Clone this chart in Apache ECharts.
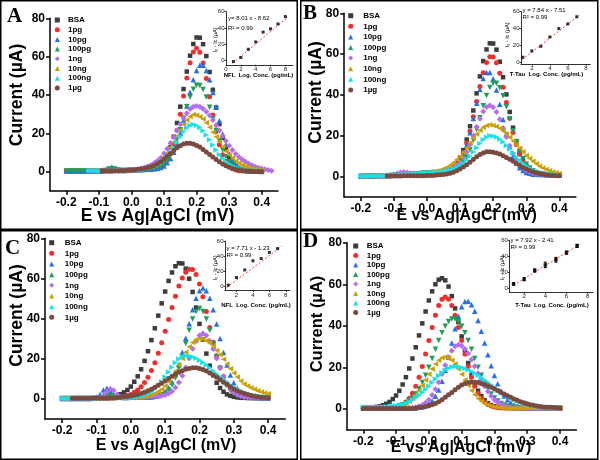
<!DOCTYPE html>
<html><head><meta charset="utf-8">
<script src="https://cdn.jsdelivr.net/npm/echarts@6/dist/echarts.min.js"></script>
<style>html,body{margin:0;padding:0;background:#fff}#c{width:600px;height:460px}</style>
</head><body><div id="c"></div>
<script>
// ---------- DATA ----------
const E = [-0.20,-0.19,-0.18,-0.17,-0.16,-0.15,-0.14,-0.13,-0.12,-0.11,-0.10,-0.09,-0.08,-0.07,-0.06,-0.05,-0.04,-0.03,-0.02,-0.01,0.00,0.01,0.02,0.03,0.04,0.05,0.06,0.07,0.08,0.09,0.10,0.11,0.12,0.13,0.14,0.15,0.16,0.17,0.18,0.19,0.20,0.21,0.22,0.23,0.24,0.25,0.26,0.27,0.28,0.29,0.30,0.31,0.32,0.33,0.34,0.35,0.36,0.37,0.38,0.39,0.40,0.41,0.42,0.43];
const seriesNames = ['BSA','1pg','10pg','100pg','1ng','10ng','100ng','1µg'];
const xTicks = [-0.2,-0.1,0,0.1,0.2,0.3,0.4];
const yTicks = [0,20,40,60,80];

// Panel A
const A_bsa = [0.3,0.3,0.3,0.3,0.3,0.3,0.3,0.3,0.3,0.3,0.3,0.3,0.3,0.3,0.3,0.5,0.5,0.5,0.5,0.5,0.8,0.9,1.0,1.0,1.1,1.2,1.6,2.0,2.6,3.7,5.6,8.5,12.7,18.2,25.4,33.9,43.1,52.2,60.5,66.6,70.0,69.9,66.5,60.3,52.0,42.7,33.4,24.8,17.6,12.0,7.8,4.8,2.8,1.6,0.9,0.5,0.3,0.2,0.2,0.1,0.1];
const A_1pg = [0.3,0.3,0.3,0.3,0.3,0.3,0.3,0.3,0.3,0.3,0.3,0.3,0.3,0.3,0.3,0.5,0.5,0.5,0.5,0.5,0.8,0.9,1.0,1.0,1.1,1.2,1.2,1.5,1.8,2.5,3.8,6.0,9.5,14.6,21.6,30.0,39.4,48.8,56.8,62.4,64.4,62.3,56.7,48.6,39.1,29.5,21.0,14.0,8.8,5.3,3.0,1.7,0.9,0.5,0.3,0.2,0.2,0.1,0.1,0.1,0.1];
const A_10pg = [0.3,0.3,0.3,0.3,0.3,0.3,0.3,0.3,0.3,0.3,0.3,0.3,0.8,1.8,2.4,1.8,1.0,0.6,0.6,0.7,0.8,0.9,1.0,1.0,1.1,1.2,1.2,1.5,1.7,2.2,3.0,4.6,6.9,10.1,14.6,20.2,26.9,34.2,41.4,48.0,52.8,55.5,55.5,52.8,47.9,41.3,33.9,26.5,19.7,14.0,9.5,6.2,3.9,2.3,1.4,0.8,0.5,0.3,0.2,0.2,0.1];
const A_100pg = [0.3,0.3,0.3,0.3,0.3,0.3,0.3,0.3,0.3,0.3,0.3,0.3,0.6,1.2,1.5,1.2,0.8,0.6,0.6,0.7,0.8,0.9,1.0,1.0,1.1,1.2,1.5,1.7,2.0,2.7,3.9,5.8,8.4,11.9,16.5,21.9,27.8,33.8,39.0,43.0,45.1,45.0,42.9,38.9,33.6,27.6,21.5,16.0,11.4,7.8,5.1,3.2,1.9,1.1,0.7,0.5,0.3,0.2,0.2,0.1,0.1];
const A_1ng = [null,null,null,null,null,null,null,0.4,0.4,0.4,0.4,0.4,0.4,0.4,0.4,0.5,0.5,0.6,0.7,0.7,0.9,1.0,1.1,1.6,2.1,2.7,3.4,4.5,5.7,7.3,9.5,12.0,14.9,18.0,21.4,24.7,27.8,30.5,32.7,33.9,34.3,33.8,32.8,31.3,29.3,26.9,24.2,21.4,18.6,16.0,13.5,11.3,9.3,7.7,6.3,5.1,4.1,3.3,2.6,2.0,1.6,1.2,0.8,0.5];
const A_10ng = [null,null,null,null,null,null,null,0.4,0.4,0.4,0.4,0.4,0.4,0.4,0.4,0.5,0.6,0.6,0.7,0.8,0.9,1.0,1.2,1.4,1.7,2.1,2.6,3.4,4.4,5.8,7.6,9.8,12.6,15.5,18.6,21.7,24.6,27.0,28.8,29.8,29.4,28.7,27.4,25.5,23.2,20.6,18.2,15.6,13.0,10.7,8.8,7.1,5.6,4.4,3.4,2.7,2.1,1.6,1.2,0.9,0.7];
const A_100ng = [null,null,null,null,null,null,null,0.4,0.4,0.4,0.4,0.4,0.4,0.4,0.4,0.5,0.6,0.6,0.7,0.8,0.9,1.0,1.0,1.1,1.2,1.7,2.0,2.5,3.2,4.2,5.7,7.6,9.9,12.5,15.3,18.2,20.8,22.8,24.1,24.6,24.2,23.0,21.3,19.1,16.6,13.9,11.3,9.0,7.0,5.3,4.0,3.0,2.2,1.6,1.1,0.8,0.6,0.5,0.4,0.3,0.3];
const A_1ug = [null,null,null,null,null,null,null,null,null,null,null,0.4,0.4,0.4,0.4,0.5,0.5,0.6,0.6,0.7,0.9,1.0,1.3,1.5,1.7,2.1,2.6,3.2,4.1,5.2,6.5,8.0,9.5,11.0,12.4,13.5,14.4,14.8,14.8,14.4,13.7,12.8,11.6,10.3,9.0,7.6,6.3,5.1,4.0,3.1,2.3,1.7,1.2,0.9,0.6,0.4,0.3,0.2,0.1,0.1,0.1];

// Panel B
const B_bsa = [0.2,0.2,0.3,0.3,0.3,0.4,0.4,0.5,0.5,0.6,0.7,0.8,0.9,1.0,1.1,1.2,1.3,1.4,1.5,1.7,1.8,1.9,2.0,2.1,2.2,2.7,3.0,3.7,4.8,6.6,9.3,13.0,18.2,24.7,32.4,40.8,49.1,56.6,62.3,65.3,65.2,62.2,56.3,48.7,40.3,31.7,24.0,17.4,12.1,8.3,5.5,3.7,2.5,1.8,1.5,1.1,1.0,1.0,0.9,0.9,0.8];
const B_1pg = [0.2,0.2,0.3,0.3,0.3,0.4,0.4,0.5,0.5,0.6,0.7,0.8,0.9,1.0,1.1,1.2,1.3,1.4,1.5,1.7,1.8,1.9,2.0,2.1,2.2,2.6,2.9,3.6,4.6,6.2,8.6,11.9,16.5,22.3,29.3,36.8,44.2,50.9,55.9,58.7,58.6,55.8,50.6,43.8,36.3,28.6,21.6,15.7,11.0,7.6,5.1,3.5,2.4,1.8,1.4,1.1,1.0,1.0,0.9,0.9,0.8];
const B_10pg = [0.2,0.2,0.3,0.3,0.3,0.4,0.4,0.5,0.5,0.6,0.7,0.8,0.9,1.0,1.1,1.2,1.3,1.4,1.5,1.7,1.8,1.9,2.0,2.1,2.2,2.3,2.7,3.2,4.0,5.4,7.6,10.8,15.5,21.5,28.5,35.9,42.7,48.1,51.0,51.0,47.9,42.5,35.5,28.0,20.9,14.8,10.0,6.7,4.4,3.0,2.1,1.7,1.2,1.2,1.1,1.1,1.0,1.0,0.9,0.9,0.8];
const B_100pg = [0.2,0.2,0.3,0.3,0.3,0.4,0.4,0.5,0.5,0.6,0.7,0.8,0.9,1.0,1.1,1.2,1.3,1.4,1.5,1.7,1.8,1.9,2.0,2.1,2.2,2.3,2.6,2.9,3.3,4.1,5.3,7.1,9.7,13.2,17.8,23.1,28.8,34.7,39.8,43.7,45.7,45.7,43.5,39.6,34.3,28.4,22.5,17.1,12.4,8.8,6.1,4.2,2.9,2.1,1.6,1.4,1.0,1.0,0.9,0.9,0.8];
const B_1ng = [0.2,0.2,0.3,0.3,0.3,0.4,0.4,0.5,0.5,0.6,1.0,1.5,2.0,2.3,2.1,1.7,1.5,1.4,1.5,1.7,1.8,1.9,2.0,2.1,2.2,2.6,2.8,3.4,4.1,5.2,6.9,9.1,12.1,15.8,20.0,24.3,28.4,31.9,34.1,34.9,34.0,31.7,28.1,23.8,19.4,15.1,11.3,8.3,5.9,4.2,3.0,2.3,1.7,1.4,1.1,1.1,1.0,1.0,0.9,0.9,0.8];
const B_10ng = [0.2,0.2,0.3,0.3,0.3,0.4,0.4,0.5,0.5,0.6,0.7,0.8,0.9,1.0,1.1,1.2,1.3,1.4,1.5,1.7,1.8,2.2,2.4,2.8,3.2,3.9,4.6,5.6,6.8,8.3,10.0,12.0,14.2,16.5,18.8,20.9,22.7,24.2,25.1,25.4,25.1,24.6,23.6,22.4,20.9,19.3,17.5,15.8,13.9,12.2,10.4,8.9,7.5,6.3,5.1,4.3,3.5,2.9,2.3,1.9,1.6];
const B_100ng = [0.2,0.2,0.3,0.3,0.3,0.4,0.4,0.5,0.5,0.6,0.7,0.8,0.9,1.0,1.1,1.2,1.3,1.4,1.5,1.7,1.8,1.9,2.0,2.1,2.2,2.6,2.8,3.2,3.7,4.4,5.4,6.6,8.2,10.0,12.1,14.2,16.3,18.1,19.3,20.0,19.9,19.4,18.4,17.1,15.3,13.6,11.6,9.8,8.1,6.6,5.2,4.2,3.3,2.7,2.1,1.8,1.4,1.3,0.9,0.9,0.8];
const B_1ug = [null,null,null,null,null,null,null,null,0.3,0.3,0.3,0.3,0.3,0.4,0.4,0.4,0.4,0.5,0.5,0.5,0.6,0.6,0.6,0.8,0.9,1.1,1.3,1.7,2.2,2.9,3.7,4.7,5.9,7.1,8.4,9.7,10.8,11.6,12.2,12.2,12.0,11.6,11.1,10.3,9.4,8.5,7.5,6.4,5.5,4.5,3.7,3.0,2.4,1.9,1.5,1.2,0.9,0.7,0.6,0.5,0.4];

// Panel C
const C_bsa = [0.3,0.3,0.3,0.3,0.3,0.3,0.3,0.3,0.3,0.3,0.3,0.4,0.4,0.4,0.9,1.1,1.7,2.4,3.3,4.5,6.2,8.6,11.3,14.8,19.0,23.8,29.3,35.2,41.5,47.6,53.5,58.8,63.0,66.1,67.6,67.5,64.9,59.9,53.3,45.5,37.4,29.6,22.6,16.6,11.8,8.1,5.5,3.6,2.3,1.6,1.1,0.8,0.6,0.6,0.5,0.5,0.5,0.5,0.5,0.5,0.5];
const C_1pg = [0.3,0.3,0.3,0.3,0.3,0.3,0.3,0.3,0.3,0.3,0.3,0.4,0.4,0.4,0.4,0.4,0.6,1.0,1.3,1.7,2.3,3.4,4.5,6.1,8.2,10.8,14.2,18.1,22.8,28.0,33.7,39.6,45.5,51.2,56.2,60.3,63.1,64.6,64.5,62.0,57.2,50.9,43.5,35.6,28.2,21.5,15.7,11.1,7.6,5.1,3.4,2.3,1.6,1.1,0.8,0.7,0.6,0.6,0.5,0.5,0.5];
const C_10pg = [0.3,0.3,0.3,0.3,0.3,0.3,0.3,0.3,0.3,0.6,1.0,2.2,4.5,5.4,4.2,2.2,1.1,0.9,0.8,0.8,0.9,0.9,1.0,1.0,1.0,1.0,1.0,1.4,1.8,2.6,3.7,5.6,8.4,12.2,17.2,23.3,30.2,37.5,44.4,50.1,53.9,55.2,53.9,50.1,44.4,37.4,30.1,23.1,16.9,11.9,8.1,5.3,3.4,2.3,1.5,1.1,0.8,0.7,0.6,0.6,0.5];
const C_100pg = [0.3,0.3,0.3,0.3,0.3,0.3,0.3,0.3,0.3,0.3,0.3,0.3,0.8,1.5,1.8,1.2,0.7,0.6,0.7,0.7,0.8,0.8,0.8,0.9,0.9,0.9,1.0,1.0,1.5,2.0,2.9,4.5,7.0,10.4,15.3,21.0,27.6,34.2,39.8,43.6,45.0,43.6,39.8,34.2,27.6,21.0,15.2,10.3,6.7,4.2,2.6,1.6,1.1,0.8,0.7,0.6,0.6,0.5,0.5,0.5,0.5];
const C_1ng = [0.3,0.3,0.3,0.3,0.3,0.3,0.3,0.3,0.3,0.3,0.4,0.8,1.8,3.6,5.0,4.2,2.2,1.0,0.8,0.8,0.9,0.9,1.0,1.0,1.1,1.1,1.2,1.2,1.3,1.6,2.0,2.8,3.9,5.7,8.2,11.6,15.7,20.3,25.0,28.9,31.6,32.6,31.6,28.9,24.9,20.2,15.5,11.3,7.8,5.2,3.4,2.3,1.5,1.1,0.9,0.8,0.7,0.6,0.6,0.5,0.5];
const C_10ng = [0.3,0.3,0.3,0.3,0.3,0.3,0.3,0.3,0.3,0.3,0.3,0.4,0.4,0.5,0.5,0.5,0.6,0.6,0.7,0.7,0.8,0.8,0.9,0.9,1.3,1.6,2.1,2.8,3.7,4.9,6.5,8.6,11.1,13.9,17.0,20.2,23.3,26.0,28.1,29.5,30.0,29.7,29.0,27.8,26.1,24.2,22.1,19.8,17.4,15.1,12.9,10.9,9.0,7.5,6.5,5.6,4.8,4.1,3.5,3.0,2.6];
const C_100ng = [0.3,0.3,0.3,0.3,0.3,0.3,0.3,0.3,0.3,0.3,0.3,0.4,0.4,0.5,0.5,0.5,0.6,0.6,0.7,0.7,0.8,0.8,1.2,1.5,2.0,2.6,3.6,4.9,6.6,8.6,10.9,13.4,15.8,18.1,19.9,21.1,21.5,21.4,20.9,20.3,19.3,18.2,16.9,15.5,14.0,12.5,11.1,9.7,8.3,7.0,5.9,5.0,4.1,3.4,2.8,2.3,1.9,1.6,1.3,1.1,1.0];
const C_1ug = [null,null,null,0.4,0.4,0.4,0.4,0.4,0.4,0.5,0.5,0.5,0.5,0.5,0.6,0.6,0.7,0.9,1.1,1.3,1.5,1.9,2.3,2.8,3.4,4.1,4.9,5.8,6.8,7.9,9.0,10.2,11.3,12.4,13.3,14.1,14.8,15.2,15.5,15.5,15.2,14.7,14.0,13.0,12.0,10.8,9.6,8.4,7.2,6.1,5.0,4.1,3.4,2.7,2.2,1.7,1.4,1.1,0.9,0.7,0.6];

// Panel D
const D_bsa = [0.4,0.4,0.4,0.4,1.0,1.3,1.8,2.5,3.4,4.8,6.5,8.8,11.8,15.3,19.5,24.3,29.7,35.4,41.2,46.9,52.2,56.6,60.0,62.2,62.9,61.9,58.9,54.3,48.4,41.8,34.9,28.2,22.1,16.8,12.3,8.8,6.2,4.2,2.8,1.9,1.3,0.9,0.7,0.6,0.5,0.5,0.5,0.4,0.4,0.4,0.4,0.4,0.4,0.4,0.4,0.4,0.4,0.4,0.4,0.4,0.4];
const D_1pg = [0.4,0.4,0.4,0.4,0.4,0.4,0.4,0.4,0.4,0.7,1.0,1.5,2.2,3.4,5.2,7.6,11.0,15.3,20.5,26.5,32.9,39.2,45.1,49.8,52.8,53.9,52.8,49.8,45.1,39.2,32.9,26.5,20.5,15.3,11.0,7.6,5.2,3.4,2.2,1.5,1.0,0.7,0.5,0.5,0.5,0.5,0.4,0.4,0.4,0.4,0.4,0.4,0.4,0.4,0.4,0.4,0.4,0.4,0.4,0.4,0.4];
const D_10pg = [0.4,0.4,0.4,0.4,0.4,0.4,0.4,0.4,0.4,0.4,0.4,0.4,0.4,0.5,0.5,0.5,0.5,0.8,1.1,1.6,2.5,3.9,6.1,9.2,13.3,18.6,24.9,31.8,38.6,44.6,49.2,51.7,51.8,50.1,47.0,42.6,37.4,31.8,26.1,20.8,16.1,12.1,8.8,6.3,4.4,3.0,2.1,1.5,1.1,0.8,0.6,0.6,0.5,0.5,0.5,0.5,0.4,0.4,0.4,0.4,0.4];
const D_100pg = [0.4,0.4,0.4,0.4,0.4,0.4,0.4,0.4,0.4,0.8,1.0,1.4,1.9,2.7,3.8,5.3,7.2,9.7,12.7,16.2,20.1,24.3,28.7,32.9,36.7,39.8,42.1,43.3,43.3,42.1,39.8,36.7,32.9,28.7,24.3,20.1,16.2,12.7,9.7,7.2,5.3,3.8,2.7,1.9,1.4,1.0,0.8,0.6,0.5,0.5,0.4,0.4,0.4,0.4,0.4,0.4,0.4,0.4,0.4,0.4,0.4];
const D_1ng = [0.4,0.4,0.4,0.4,0.4,0.4,0.4,0.4,0.4,0.4,0.4,0.4,0.4,0.4,0.4,0.6,0.9,1.3,1.9,3.0,4.5,6.7,9.5,12.9,16.8,21.0,24.8,28.0,30.2,30.9,30.4,28.9,26.7,23.8,20.6,17.2,14.0,11.0,8.4,6.2,4.5,3.2,2.3,1.6,1.1,0.9,0.6,0.5,0.5,0.4,0.4,0.4,0.4,0.4,0.4,0.4,0.4,0.4,0.4,0.4,0.4];
const D_10ng = [0.4,0.4,0.4,0.4,0.4,0.4,0.4,0.4,0.4,0.8,1.0,1.4,1.9,2.7,3.7,5.1,6.8,8.9,11.3,14.0,16.7,19.3,21.6,23.4,24.6,25.0,24.6,23.4,21.6,19.3,16.7,14.0,11.3,8.9,6.8,5.1,3.7,2.7,1.9,1.4,1.0,0.8,0.6,0.5,0.4,0.4,0.4,0.4,0.4,0.4,0.4,0.4,0.4,0.4,0.4,0.4,0.4,0.4,0.4,0.4,0.4];
const D_100ng = [0.9,0.9,0.9,0.9,0.9,0.9,1.0,1.1,1.2,1.4,1.6,1.9,2.3,2.9,3.5,4.4,5.4,6.6,7.9,9.4,11.0,12.7,14.4,16.0,17.5,18.7,19.6,20.2,20.4,20.3,20.0,19.5,18.9,18.1,17.2,16.2,15.1,13.9,12.7,11.5,10.3,9.2,8.1,7.1,6.2,5.4,4.6,3.9,3.3,2.8,2.3,1.9,1.6,1.3,1.1,1.0,0.8,0.7,0.6,0.6,0.5];
const D_1ug = [0.3,0.3,0.3,0.3,0.3,0.3,0.3,0.3,0.3,0.3,0.3,0.3,0.3,0.3,0.3,0.3,0.5,0.7,0.9,1.2,1.6,2.1,2.7,3.5,4.5,5.6,6.8,8.0,9.3,10.5,11.5,12.3,12.8,13.0,12.9,12.7,12.3,11.8,11.2,10.5,9.7,8.9,8.0,7.2,6.4,5.6,4.8,4.2,3.5,3.0,2.5,2.1,1.8,1.5,1.2,1.0,0.9,0.8,0.7,0.6,0.5];

// Insets (calibration plots)
const insA_x = [1,2,3,4,5,6,7,8];
const insA_y = [-1,4,14,23,35,39,45,54];
const insA_fit = [[0.9,-3],[8.3,53]];
const insB_x = [1,2,3,4,5,6,7];
const insB_y = [6,13.5,19,30,40,45.5,54];
const insB_fit = [[0.9,3],[7.3,56]];
const insC_x = [1,2,3,4,5,6,7];
const insC_y = [2,12,22,34,37,45,50];
const insC_fit = [[0.8,-1],[7.5,53]];
const insD_x = [1,2,3,4,5,6,7];
const insD_y = [5.5,11.5,22.5,29.5,36,45,53.5];
const insD_err = [1.5,2,2,3.5,3,2,2];
const insD_fit = [[1,4],[7.2,55]];
const insXTicksA = [0,2,4,6,8];
const insXTicks = [2,4,6,8];
const insYTicks = [0,20,40,60];

// ---------- LAYOUT / STYLE ----------
const FF = '"Liberation Sans", Arial, sans-serif';
const styles = [
  {symbol:'rect', color:'#3c3c3c', size:4.5, rot:0},
  {symbol:'circle', color:'#f42c2c', size:5, rot:0},
  {symbol:'triangle', color:'#2470e6', size:5.5, rot:0},
  {symbol:'triangle', color:'#1f9e55', size:5.5, rot:180},
  {symbol:'diamond', color:'#b46cf0', size:6, rot:0},
  {symbol:'triangle', color:'#c9a200', size:5.5, rot:90},
  {symbol:'triangle', color:'#14e2ea', size:5.5, rot:-90},
  {symbol:'circle', color:'#7b4a3e', size:5, rot:0}
];
const panels = [
  [A_bsa,A_1pg,A_10pg,A_100pg,A_1ng,A_10ng,A_100ng,A_1ug],
  [B_bsa,B_1pg,B_10pg,B_100pg,B_1ng,B_10ng,B_100ng,B_1ug],
  [C_bsa,C_1pg,C_10pg,C_100pg,C_1ng,C_10ng,C_100ng,C_1ug],
  [D_bsa,D_1pg,D_10pg,D_100pg,D_1ng,D_10ng,D_100ng,D_1ug]
];
const mainGrids = [
  {left:50, top:18.3, width:228, height:172.5},
  {left:344.2, top:13.3, width:231.7, height:183.8},
  {left:45, top:238.3, width:240.3, height:180.8},
  {left:346.9, top:242.7, width:229.5, height:187.1}
];
const insetGrids = [
  {left:226, top:11.7, width:66.8, height:53.1},
  {left:521, top:11.7, width:69.3, height:52.3},
  {left:225, top:241, width:64.9, height:49.5},
  {left:509.3, top:240.7, width:83.7, height:51.6}
];
const insetRanges = [[0,9,-5,60],[0.8,8.5,-2,60],[0.6,8.5,-5,60],[0.6,8.5,-5,60]];
// [left, top, itemGap, text padding]
const legendPos = [[54.8,16,1.7,3.2],[348.2,11.7,2.6,5],[49.2,238.7,2.66,5.5],[353.2,242,1.5,3.5]];

const grid = [], xAxis = [], yAxis = [], series = [], legend = [];
mainGrids.forEach((g,i)=>{
  grid.push(Object.assign({outerBoundsMode:'none', containLabel:false}, g));
  xAxis.push({type:'value', gridIndex:i, min:-0.25, max:0.45,
    axisLine:{onZero:false, lineStyle:{color:'#000', width:1.5}},
    axisTick:{customValues:xTicks, length:4, lineStyle:{color:'#000', width:1.5}},
    axisLabel:{customValues:xTicks, formatter:v=>v.toFixed(1), color:'#000', fontSize:12, fontWeight:'bold', fontFamily:FF, margin:6},
    splitLine:{show:false}});
  yAxis.push({type:'value', gridIndex:i, min:-10, max:80,
    axisLine:{show:true, onZero:false, lineStyle:{color:'#000', width:1.5}},
    axisTick:{show:true, customValues:yTicks, length:4, lineStyle:{color:'#000', width:1.5}},
    axisLabel:{customValues:yTicks, color:'#000', fontSize:12, fontWeight:'bold', fontFamily:FF, margin:5, hideOverlap:false},
    splitLine:{show:false}});
});
insetGrids.forEach((g,i)=>{
  const r = insetRanges[i];
  grid.push(Object.assign({outerBoundsMode:'none', containLabel:false}, g));
  const xt = i===0 ? insXTicksA : insXTicks;
  xAxis.push({type:'value', gridIndex:4+i, min:r[0], max:r[1],
    axisLine:{onZero:false, lineStyle:{color:'#000', width:0.8}},
    axisTick:{customValues:xt, length:1.5, lineStyle:{color:'#000', width:0.8}},
    axisLabel:{customValues:xt, color:'#222', fontSize:6, fontFamily:FF, margin:1.5},
    splitLine:{show:false}});
  yAxis.push({type:'value', gridIndex:4+i, min:r[2], max:r[3],
    axisLine:{show:true, onZero:false, lineStyle:{color:'#000', width:0.8}},
    axisTick:{show:true, customValues:insYTicks, length:1.5, lineStyle:{color:'#000', width:0.8}},
    axisLabel:{customValues:insYTicks, color:'#222', fontSize:6, fontFamily:FF, margin:1.5},
    splitLine:{show:false}});
});

panels.forEach((arrs,p)=>{
  arrs.forEach((vals,k)=>{
    const st = styles[k];
    const data = [];
    vals.forEach((v,j)=>{ if (v!==null && v!==undefined) data.push([E[j], v]); });
    series.push({type:'scatter', name:seriesNames[k], xAxisIndex:p, yAxisIndex:p,
      symbol:st.symbol, symbolSize:st.size, symbolRotate:st.rot,
      itemStyle:{color:st.color, opacity:1}, data, silent:true, z:2+k*0.01});
  });
  const lp = legendPos[p];
  legend.push({data:seriesNames, orient:'vertical', left:lp[0], top:lp[1], itemGap:lp[2],
    itemWidth:5, itemHeight:5, padding:0, selectedMode:false,
    textStyle:{fontSize:8, lineHeight:8, fontWeight:'bold', fontFamily:FF, color:'#000', padding:[0,0,0,lp[3]]}});
});

const insets = [[insA_x,insA_y,insA_fit],[insB_x,insB_y,insB_fit],[insC_x,insC_y,insC_fit],[insD_x,insD_y,insD_fit]];
insets.forEach((ins,i)=>{
  series.push({type:'line', xAxisIndex:4+i, yAxisIndex:4+i, data:ins[2], symbol:'none', silent:true,
    lineStyle:{color:'#ff3a3a', width:1, type:[2,2]}, z:3});
  series.push({type:'scatter', xAxisIndex:4+i, yAxisIndex:4+i, symbol:'rect', symbolSize:i===3?3.5:3,
    itemStyle:{color:'#000'}, data:ins[0].map((x,j)=>[x, ins[1][j]]), silent:true, z:4});
});
series.push({type:'custom', xAxisIndex:7, yAxisIndex:7, silent:true, z:4,
  data: insD_x.map((x,j)=>[x, insD_y[j]-insD_err[j], insD_y[j]+insD_err[j]]),
  renderItem:(params, api)=>{
    const a = api.coord([api.value(0), api.value(1)]);
    const b = api.coord([api.value(0), api.value(2)]);
    return {type:'group', children:[
      {type:'line', shape:{x1:a[0],y1:a[1],x2:b[0],y2:b[1]}, style:{stroke:'#000', lineWidth:1.2}},
      {type:'line', shape:{x1:a[0]-1.5,y1:a[1],x2:a[0]+1.5,y2:a[1]}, style:{stroke:'#000', lineWidth:1}},
      {type:'line', shape:{x1:b[0]-1.5,y1:b[1],x2:b[0]+1.5,y2:b[1]}, style:{stroke:'#000', lineWidth:1}}
    ]};
  }});

// ---------- TEXT / FRAMES ----------
const graphic = [];
const frames = [[0.75,0.75,296.5,228.5],[300.75,0.75,297,228.5],[0.75,230.75,296.5,228.5],[300.75,230.75,297,228.5]];
frames.forEach(f=>graphic.push({type:'rect', shape:{x:f[0],y:f[1],width:f[2],height:f[3]}, style:{fill:'none', stroke:'#000', lineWidth:1.5}, z:10}));
function txt(t, x, y, font, opts){
  const o = Object.assign({align:'left', valign:'middle', rot:0, fill:'#000'}, opts||{});
  graphic.push({type:'text', x, y, rotation:o.rot, z:10,
    style:{text:t, font, fill:o.fill, textAlign:o.align, textVerticalAlign:o.valign}});
}
const letters = [['A',7,17],['B',303,14],['C',5,248.5],['D',303,242]];
letters.forEach(l=>txt(l[0], l[1], l[2], 'bold 21px "Liberation Serif", "Times New Roman", serif'));
const yTitle = 'Current (µA)', xTitle = 'E vs Ag|AgCl (mV)';
[[17.5,95,17.5],[316.5,92.5,17.5],[17.5,315.5,17.5],[317.5,324,16.5]].forEach(p=>
  txt(yTitle, p[0], p[1], 'bold '+p[2]+'px '+FF, {align:'center', rot:Math.PI/2}));
[[157.5,216,17.5],[466.7,216,16],[166,446,16],[461,447.5,16]].forEach(p=>
  txt(xTitle, p[0], p[1], 'bold '+p[2]+'px '+FF, {align:'center'}));
const insetText = [
  ['y= 8.01 x - 8.62', 'R² = 0.99', 'NFL  Log. Conc. (pg/mL)', 228, 18.3, 28.5, 258.5, 75.5, 215.5, 40],
  ['y = 7.84 x - 7.51', 'R² = 0.99', 'T-Tau  Log. Conc. (pg/mL)', 522.5, 10.5, 17.7, 546.5, 74.3, 507.5, 35],
  ['y = 7.71 x - 1.23', 'R² = 0.99', 'NFL  Log. Conc. (pg/mL)', 226.5, 248.3, 255.7, 256, 305, 215, 268],
  ['y = 7.92 x - 2.41', 'R² = 0.99', 'T-Tau  Log. Conc. (pg/mL)', 510.5, 240.5, 247, 552, 305, 502, 268]
];
insetText.forEach(t=>{
  txt(t[0], t[3], t[4], '6px '+FF);
  txt(t[1], t[3], t[5], '6px '+FF);
  txt(t[2], t[6], t[7], 'bold 6px '+FF, {align:'center'});
  txt('I₀ - Ic (µA)', t[8], t[9], '5.5px '+FF, {align:'center', rot:Math.PI/2});
});

const chart = echarts.init(document.getElementById('c'), null, {renderer:'canvas', width:600, height:460});
chart.setOption({animation:false, backgroundColor:'#fff', grid, xAxis, yAxis, legend, series, graphic});
</script></body></html>
